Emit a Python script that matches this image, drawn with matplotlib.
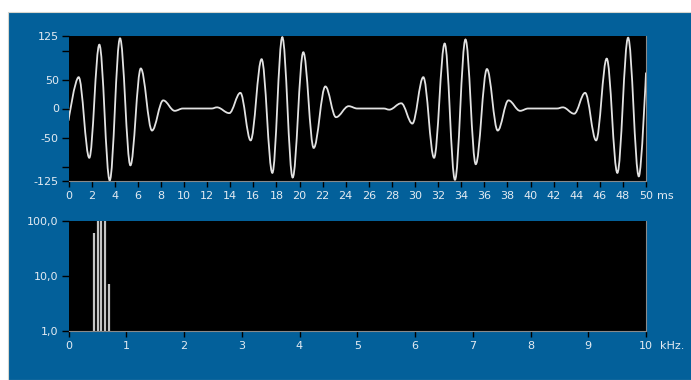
import matplotlib
matplotlib.use("Agg")
import matplotlib.pyplot as plt
from matplotlib.path import Path
from matplotlib.patches import PathPatch, Rectangle

# time signal: turning points of the trace (ms, amplitude)
wave_t = [0.0, 0.88, 1.8, 2.67, 3.57, 4.46, 5.36, 6.26, 7.23, 8.2, 9.2, 9.9,
          12.4, 12.85, 13.92, 14.88, 15.77, 16.72, 17.65, 18.51, 19.41, 20.33,
          21.23, 22.24, 23.16, 24.26, 25.0, 27.3, 27.77, 28.81, 29.77, 30.72,
          31.65, 32.57, 33.46, 34.37, 35.26, 36.23, 37.16, 38.09, 39.1, 39.8,
          42.3, 42.8, 43.78, 44.73, 45.68, 46.6, 47.52, 48.45, 49.38, 50.0]
wave_v = [-21, 54, -85, 110, -124, 121, -98, 69, -38, 14, -4, 0,
          0, 2, -8, 27, -55, 85, -111, 123, -119, 97,
          -68, 38, -15, 4, 0, 0, -2, 9, -26, 54,
          -85, 112, -123, 119, -96, 68, -38, 14, -4, 0,
          0, 2, -9, 27, -55, 86, -111, 122, -117, 62]

# spectrum lines (kHz, level)
spec_f = [0.44, 0.505, 0.57, 0.635, 0.70]
spec_a = [60, 100, 100, 100, 7.2]

t_ticks = list(range(0, 51, 2))
v_ticks = [-125, -100, -50, 0, 50, 100, 125]
v_labels = ["-125", "", "-50", "0", "50", "", "125"]
f_ticks = list(range(0, 11))
a_ticks = [1, 10, 100]
a_labels = ["1,0", "10,0", "100,0"]

PANEL = "#03609a"
TRACE = "#e2e2e2"
LABEL = "#e4ebf2"

plt.rcParams["font.family"] = ["DejaVu Sans"]
plt.rcParams["font.size"] = 8


def smooth_path(ts, vs, k=0.363):
    # cubic segments with flat tangents at each turning point
    verts = [(ts[0], vs[0])]
    codes = [Path.MOVETO]
    n = len(ts)
    for i in range(1, n):
        t0, v0, t1, v1 = ts[i - 1], vs[i - 1], ts[i], vs[i]
        dt = t1 - t0
        c1 = (t0, v0) if i == 1 else (t0 + k * dt, v0)
        c2 = (t1, v1) if i == n - 1 else (t1 - k * dt, v1)
        verts += [c1, c2, (t1, v1)]
        codes += [Path.CURVE4] * 3
    return Path(verts, codes)


def style_axes(ax):
    ax.set_facecolor("black")
    ax.spines["left"].set_visible(False)
    ax.spines["top"].set_visible(False)
    ax.spines["bottom"].set_color("#8a8a8a")
    ax.spines["right"].set_color("#8a8a8a")
    ax.tick_params(colors="black", labelcolor=LABEL, length=4, width=1, pad=3)
    ax.tick_params(axis="y", length=5, pad=2)


fig = plt.figure(figsize=(6.91, 3.80), dpi=100)
fig.patch.set_facecolor("white")
fig.patches.append(Rectangle((8 / 691, 0), 1, (380 - 12) / 380, transform=fig.transFigure,
                             facecolor=PANEL, edgecolor="#d6d6ce", lw=0.8, zorder=-10))

# time domain
ax1 = fig.add_axes([68.5 / 691, 199 / 380, 577.5 / 691, 145 / 380])
style_axes(ax1)
ax1.add_patch(PathPatch(smooth_path(wave_t, wave_v), fill=False, edgecolor=TRACE, lw=1.3))
ax1.set_xlim(0, 50)
ax1.set_ylim(-125, 125)
ax1.set_xticks(t_ticks)
ax1.set_yticks(v_ticks, labels=v_labels)
ax1.annotate("ms", xy=(1, 0), xycoords="axes fraction", xytext=(8, -7),
             textcoords="offset points", va="top", ha="left", color=LABEL)

# spectrum
ax2 = fig.add_axes([68.5 / 691, 49 / 380, 577.5 / 691, 110 / 380])
style_axes(ax2)
ax2.set_yscale("log")
ax2.vlines(spec_f, 1, spec_a, color="#c4c4c4", lw=1.6)
ax2.set_xlim(0, 10)
ax2.set_ylim(1, 100)
ax2.set_xticks(f_ticks)
ax2.set_yticks(a_ticks, labels=a_labels)
ax2.minorticks_off()
ax2.annotate("kHz.", xy=(1, 0), xycoords="axes fraction", xytext=(10, -7),
             textcoords="offset points", va="top", ha="left", color=LABEL)

fig.savefig("out.png", dpi=100, facecolor=fig.get_facecolor())
